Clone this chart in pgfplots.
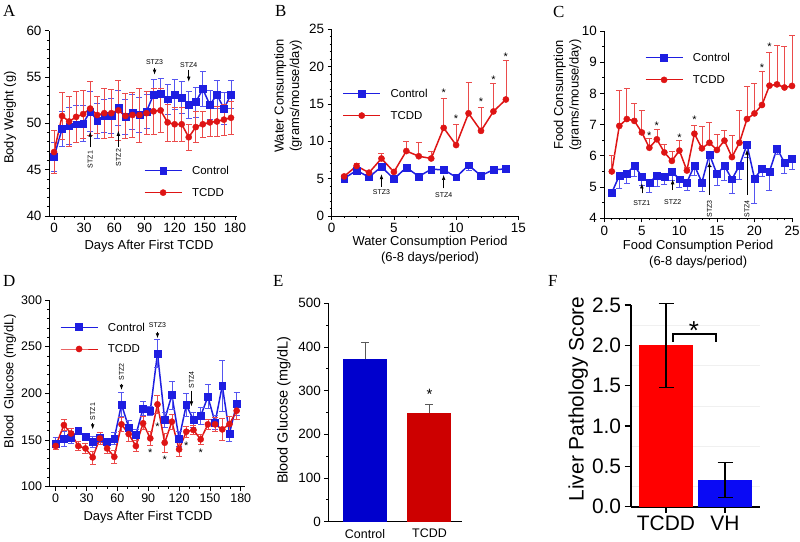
\documentclass[border=0pt]{standalone}
\usepackage{fontspec}
\setmainfont{Liberation Sans}
\newfontfamily\serifl{Liberation Serif}
\usepackage{pgfplots}
\pgfplotsset{compat=1.18}
\usetikzlibrary{arrows.meta}

\definecolor{cline}{RGB}{30,30,225}
\definecolor{cerr}{RGB}{85,85,240}
\definecolor{tline}{RGB}{222,20,20}
\definecolor{terr}{RGB}{235,75,75}
\definecolor{ebblue}{RGB}{0,0,205}
\definecolor{ebred}{RGB}{205,0,0}
\definecolor{fred}{RGB}{255,0,0}
\definecolor{fblue}{RGB}{10,10,245}

\newcommand\stz{\fontsize{7}{7}\selectfont}
\newcommand\starf{\fontsize{11}{11}\selectfont}
\newcommand\letf{\fontsize{17}{17}\selectfont\serifl}

\tikzset{arr/.style={-{Latex[length=5bp,width=3.6bp]}, line width=0.6bp, black},
  st/.style={font=\starf, yshift=-2.4bp}}

\pgfplotsset{
 panel/.style={
  scale only axis, anchor=south west, clip=false,
  axis x line*=bottom, axis y line*=left,
  every outer x axis line/.append style={-},
  every outer y axis line/.append style={-},
  every inner x axis line/.append style={-},
  every inner y axis line/.append style={-},
  axis line style={-, line width=0.8bp, black},
  tick align=outside, major tick length=4bp, minor tick length=2.2bp,
  tick style={black, line width=0.8bp},
  tick label style={font=\fontsize{13.5}{13.5}\selectfont},
  label style={font=\fontsize{13}{15.7}\selectfont},
  /pgf/number format/assume math mode=true,
  xlabel style={anchor=center, align=center},
  ylabel style={anchor=center, align=center},
 },
 ctrl/.style={color=cline, line width=1.5bp, mark=square*, mark size=3.4bp,
   mark options={solid, fill=cline, line width=0.4bp}},
 tcdd/.style={color=tline, line width=1.5bp, mark=*, mark size=3.1bp,
   mark options={solid, fill=tline, line width=0.4bp}},
 cerrb/.style={error bars/.cd, y explicit, y dir=#1,
   error bar style={color=cerr, line width=0.7bp},
   error mark options={rotate=90, mark size=3bp, color=cerr, line width=0.7bp}},
 terrb/.style={error bars/.cd, y explicit, y dir=#1,
   error bar style={color=terr, line width=0.7bp},
   error mark options={rotate=90, mark size=3bp, color=terr, line width=0.7bp}},
 leg/.style={legend style={draw=none, fill=none, at={#1}, anchor=west,
   font=\fontsize{11.5}{11.5}\selectfont, row sep=13.9bp, inner sep=0bp,
   nodes={inner sep=0bp, text depth=0bp},
   /tikz/every odd column/.append style={column sep=10bp}},
   legend cell align=left,
   legend image code/.code={\draw[mark repeat=2,mark phase=2,##1,line width=0.8bp]
     plot coordinates {(0bp,0bp) (18.5bp,0bp) (37bp,0bp)};}},
}

\begin{document}
\begin{tikzpicture}[x=1bp,y=1bp]
\path[use as bounding box] (0bp,0bp) rectangle (800bp,542bp);

% panel letters
\node[anchor=base west, inner sep=0, font=\letf] at (3bp,525.3bp) {A};
\node[anchor=base west, inner sep=0, font=\letf] at (275bp,525.3bp) {B};
\node[anchor=base west, inner sep=0, font=\letf] at (553bp,524.7bp) {C};
\node[anchor=base west, inner sep=0, font=\letf] at (3bp,255.3bp) {D};
\node[anchor=base west, inner sep=0, font=\letf] at (273bp,255.3bp) {E};
\node[anchor=base west, inner sep=0, font=\letf] at (548bp,255.3bp) {F};

% ---------------- A ----------------
\begin{axis}[panel, at={(49bp,326bp)}, width=188bp, height=185.3bp,
  xmin=-5, xmax=182, ymin=40, ymax=60,
  xtick={0,30,...,180}, ytick={40,45,...,60},
  minor x tick num=2, minor y tick num=4,
  xlabel={Days After First TCDD}, ylabel={Body Weight (g)},
  xlabel style={at={(axis description cs:0.532,-0.164)}},
  ylabel style={at={(axis description cs:-0.207,0.531)}},
  leg={(axis cs:89.5,43.72)}]
\addplot[ctrl, cerrb=both] table[x index=0, y index=1, y error index=2] {
0 46.4 1.6
8 49.4 1.9
15 49.7 2.0
22 49.9 2.0
29 50.0 1.9
36 51.3 2.2
43 50.3 1.9
50 50.8 1.8
57 50.8 1.9
64 51.7 1.9
71 50.7 1.9
78 51.2 1.9
85 50.9 1.9
92 51.3 1.8
99 53.1 1.7
106 53.2 1.7
113 52.6 1.6
120 53.1 1.6
127 52.8 1.7
134 52.0 1.5
141 52.3 1.6
148 53.7 1.9
155 52.0 1.6
162 53.1 1.5
169 51.6 1.7
176 53.1 1.5
};
\addlegendentry{Control}
\addplot[tcdd, terrb=both] table[x index=0, y index=1, y error index=2] {
0 46.9 2.3
8 50.8 2.5
15 50.2 2.7
22 50.7 2.8
29 51.0 2.6
36 51.6 2.9
43 50.9 2.0
50 51.1 2.7
57 51.1 2.6
64 51.4 3.2
71 50.8 2.4
78 50.9 2.4
85 50.9 2.9
92 51.1 2.3
99 51.3 2.5
106 51.4 2.4
113 50.1 2.0
120 49.9 1.8
127 49.9 1.8
134 48.5 1.4
141 49.6 1.7
148 49.9 1.4
155 50.1 1.5
162 50.2 1.6
169 50.4 1.7
176 50.6 1.8
};
\addlegendentry{TCDD}
\draw[arr] (axis cs:36,47.4) -- (axis cs:36,49.1);
\node[rotate=90, font=\stz] at (axis cs:36,46.1) {STZ1};
\draw[arr] (axis cs:64,47.5) -- (axis cs:64,49.2);
\node[rotate=90, font=\stz] at (axis cs:64,46.3) {STZ2};
\draw[arr] (axis cs:100,56.0) -- (axis cs:100,55.25);
\node[font=\stz] at (axis cs:100,56.65) {STZ3};
\draw[arr] (axis cs:134,55.8) -- (axis cs:134,54.5);
\node[font=\stz] at (axis cs:134,56.25) {STZ4};
\end{axis}

% ---------------- B ----------------
\begin{axis}[panel, at={(331.7bp,326bp)}, width=186.6bp, height=186.7bp,
  xmin=0, xmax=15, ymin=0, ymax=25,
  xtick={0,5,10,15}, ytick={0,5,...,25},
  minor x tick num=4, minor y tick num=4,
  xlabel={Water Consumption Period\\(6-8 days/period)},
  ylabel={Water Consumption\\(grams/mouse/day)},
  xlabel style={at={(axis description cs:0.527,-0.182)}},
  ylabel style={at={(axis description cs:-0.234,0.643)}},
  leg={(axis cs:0.88,14.93)}]
\addplot[ctrl, cerrb=minus] table[x index=0, y index=1, y error index=2] {
1 5.04 0.2
2 6.1 0.3
3 5.2 0.2
4 6.6 0.3
5 4.95 0.2
6 6.5 0.3
7 5.3 0.2
8 6.25 0.2
9 6.2 0.2
10 5.2 0.2
11 6.8 0.7
12 5.4 0.2
13 6.2 0.3
14 6.3 0.3
};
\addlegendentry{Control}
\addplot[tcdd, terrb=plus] table[x index=0, y index=1, y error index=2] {
1 5.3 0.2
2 6.7 0.3
3 5.8 0.2
4 7.7 0.7
5 5.9 0.3
6 8.7 1.3
7 8.0 1.9
8 7.7 0.9
9 11.8 3.9
10 9.5 2.8
11 13.75 4.15
12 11.4 3.1
13 14.0 3.8
14 15.6 5.2
};
\addlegendentry{TCDD}
\draw[arr] (axis cs:4,3.9) -- (axis cs:4,5.6);
\node[font=\stz] at (axis cs:4,3.25) {STZ3};
\draw[arr] (axis cs:9,3.7) -- (axis cs:9,5.5);
\node[font=\stz] at (axis cs:9,2.8) {STZ4};
\node[st] at (axis cs:9,16.8) {*};
\node[st] at (axis cs:10,13.4) {*};
\node[st] at (axis cs:12,15.6) {*};
\node[st] at (axis cs:13,18.6) {*};
\node[st] at (axis cs:14,21.7) {*};
\end{axis}

% ---------------- C ----------------
\begin{axis}[panel, at={(604.3bp,323.7bp)}, width=187.7bp, height=187.3bp,
  xmin=0, xmax=25, ymin=4, ymax=10,
  xtick={0,5,...,25}, ytick={4,...,10},
  minor x tick num=4, minor y tick num=1,
  xlabel={Food Consumption Period\\(6-8 days/period)},
  ylabel={Food Consumption\\(grams/mouse/day)},
  xlabel style={at={(axis description cs:0.5,-0.19)}},
  ylabel style={at={(axis description cs:-0.196,0.658)}},
  leg={(axis cs:5.42,8.79)}]
\addplot[ctrl, cerrb=minus] table[x index=0, y index=1, y error index=2] {
1 4.82 0.05
2 5.37 0.41
3 5.44 0.32
4 5.68 0.35
5 5.34 0.3
6 5.14 0.31
7 5.37 0.35
8 5.34 0.25
9 5.5 0.3
10 5.25 0.25
11 5.15 0.25
12 5.69 0.3
13 5.15 0.3
14 6.05 0.4
15 5.42 0.35
16 5.68 0.45
17 5.25 0.45
18 5.69 0.45
19 6.36 0.4
20 5.28 0.8
21 5.58 0.25
22 5.5 0.62
23 6.24 0.2
24 5.78 0.34
25 5.9 0.33
};
\addlegendentry{Control}
\addplot[tcdd, terrb=plus] table[x index=0, y index=1, y error index=2] {
1 5.5 0.53
2 6.96 1.13
3 7.18 0.98
4 7.12 0.56
5 6.75 0.7
6 6.26 0.3
7 6.53 0.32
8 6.11 0.27
9 5.84 0.32
10 6.17 0.32
11 5.53 0.1
12 6.71 0.28
13 6.24 0.7
14 6.42 0.65
15 6.19 0.5
16 6.49 0.34
17 5.96 0.71
18 6.42 1.03
19 7.18 1.04
20 7.36 0.96
21 7.63 1.07
22 8.25 1.07
23 8.29 1.26
24 8.19 1.33
25 8.24 1.61
};
\addlegendentry{TCDD}
\draw[arr] (axis cs:5,4.8) -- (axis cs:5,5.12);
\node[font=\stz] at (axis cs:5,4.48) {STZ1};
\draw[arr] (axis cs:9.1,4.9) -- (axis cs:9.1,5.25);
\node[font=\stz] at (axis cs:9.1,4.53) {STZ2};
\draw[arr] (axis cs:14,4.75) -- (axis cs:14,5.8);
\node[rotate=90, font=\stz] at (axis cs:14,4.3) {STZ3};
\draw[arr] (axis cs:19,4.75) -- (axis cs:19,6.2);
\node[rotate=90, font=\stz] at (axis cs:19,4.3) {STZ4};
\node[st] at (axis cs:6,6.72) {*};
\node[st] at (axis cs:7,7.04) {*};
\node[st] at (axis cs:10,6.67) {*};
\node[st] at (axis cs:12,7.23) {*};
\node[st] at (axis cs:21,8.89) {*};
\node[st] at (axis cs:22,9.57) {*};
\end{axis}

% ---------------- D ----------------
\begin{axis}[panel, at={(49.5bp,55.3bp)}, width=195.4bp, height=186.7bp,
  xmin=-6, xmax=184, ymin=100, ymax=300,
  xtick={0,30,...,180}, ytick={100,150,...,300},
  minor x tick num=2, minor y tick num=4,
  tick label style={font=\fontsize{12.5}{12.5}\selectfont},
  xlabel={Days After First TCDD},
  ylabel={Blood\hspace{0.45em}Glucose (mg/dL)},
  xlabel style={at={(axis description cs:0.504,-0.164)}},
  ylabel style={at={(axis description cs:-0.202,0.566)}},
  leg={(axis cs:4.2,259.4)}]
\addplot[ctrl, cerrb=both] table[x index=0, y index=1, y error index=2] {
0 146.4 6
8 151 8
15 152.9 6
22 159.6 4
29 153.6 4
36 148.2 6
43 152.9 5
50 148.2 4
57 151.8 6
64 188.2 13
71 163.6 8
78 155.4 6
85 183.9 8
92 181.4 5
99 242.9 15
106 172.1 8
113 198.2 15
120 151.4 8
127 187.5 12
134 171.4 8
141 175.7 9
148 196.4 13
155 168.9 8
162 208.2 27
169 157.1 9
176 188.6 12
};
\addlegendentry{Control}
\addplot[tcdd, terrb=both] table[x index=0, y index=1, y error index=2] {
0 143.6 4
8 166 6
15 157 5
22 143.6 5
29 141 5
36 131.4 7
43 151.8 6
50 141 5
57 132 7
64 166.8 8
71 156.4 8
78 143.6 6
85 167.9 7
92 151.8 8
99 188.2 10
106 147.1 10
113 169.6 8
120 140 7
127 158.9 6
134 160.7 5
141 150.7 5
148 166.8 5
155 166.8 8
162 161.4 12
169 167.1 8
176 181.4 9
};
\addlegendentry{TCDD}
\draw[arr] (axis cs:36,168.5) -- (axis cs:36,161.4);
\node[rotate=90, font=\stz] at (axis cs:36,180.4) {STZ1};
\draw[arr] (axis cs:64,210.5) -- (axis cs:64,203.6);
\node[rotate=90, font=\stz] at (axis cs:64,223) {STZ2};
\draw[arr] (axis cs:99,266) -- (axis cs:99,259);
\node[font=\stz] at (axis cs:99,273) {STZ3};
\draw[arr] (axis cs:132,203) -- (axis cs:132,186);
\node[rotate=90, font=\stz] at (axis cs:132,214.3) {STZ4};
\node[st] at (axis cs:92,139) {*};
\node[st] at (axis cs:99,167) {*};
\node[st] at (axis cs:106,131) {*};
\node[st] at (axis cs:127,146) {*};
\node[st] at (axis cs:141,139) {*};
\end{axis}

% ---------------- E ----------------
\begin{axis}[panel, at={(328.3bp,20.3bp)}, width=133.4bp, height=218.4bp,
  xmin=0.43, xmax=2.5, ymin=0, ymax=500,
  xtick={1,2}, xticklabels={Control,TCDD},
  x tick style={draw=none}, major x tick style={draw=none},
  ytick={0,100,...,500}, minor y tick num=1,
  xticklabel style={font=\fontsize{12.5}{12.5}\selectfont},
  ylabel={Blood Glucose (mg/dL)},
  label style={font=\fontsize{14.5}{14.5}\selectfont},
  ylabel style={at={(axis description cs:-0.332,0.511)}}]
\addplot[ybar, bar width=44bp, fill=ebblue, draw=none,
  error bars/.cd, y dir=plus, y explicit,
  error bar style={color=black!65, line width=0.8bp},
  error mark options={rotate=90, mark size=4bp, color=black!65, line width=0.8bp}]
  coordinates {(1,371.8) +- (0,39.7)};
\addplot[ybar, bar width=44bp, fill=ebred, draw=none,
  error bars/.cd, y dir=plus, y explicit,
  error bar style={color=black!65, line width=0.8bp},
  error mark options={rotate=90, mark size=4bp, color=black!65, line width=0.8bp}]
  coordinates {(2,248) +- (0,20)};
\node[font=\fontsize{15}{15}\selectfont, yshift=-3.2bp] at (axis cs:2,298) {*};
\end{axis}

% ---------------- F ----------------
\begin{axis}[panel, at={(630.6bp,35.3bp)}, width=129.8bp, height=201.7bp,
  xmin=0.4, xmax=2.6, ymin=0, ymax=2.5,
  xtick={1,2}, xticklabels={TCDD,VH},
  ytick={0,0.5,...,2.5}, minor y tick num=1,
  minor tick length=0bp, yminorgrids, minor grid style={gray!12, line width=0.5bp},
  axis line style={-, line width=1.8bp, black},
  tick style={black, line width=1.5bp}, major tick length=6bp,
  tick label style={font=\fontsize{21}{21}\selectfont},
  yticklabel style={/pgf/number format/.cd, fixed, fixed zerofill, precision=1},
  label style={font=\fontsize{21}{21}\selectfont},
  ylabel={Liver Pathology Score},
  ylabel style={at={(axis description cs:-0.403,0.534)}}]
\addplot[ybar, bar width=53.4bp, fill=fred, draw=none,
  error bars/.cd, y dir=both, y explicit,
  error bar style={color=black, line width=1.2bp},
  error mark options={rotate=90, mark size=7.5bp, color=black, line width=1.2bp}]
  coordinates {(1,2.0) +- (0,0.52)};
\addplot[ybar, bar width=53.4bp, fill=fblue, draw=none,
  error bars/.cd, y dir=both, y explicit,
  error bar style={color=black, line width=1.2bp},
  error mark options={rotate=90, mark size=7.5bp, color=black, line width=1.2bp}]
  coordinates {(2,0.333) +- (0,0.215)};
\draw[line width=1.8bp] (axis cs:1.119,2.045) -- (axis cs:1.119,2.136) -- (axis cs:1.847,2.136) -- (axis cs:1.847,2.045);
\node[font=\fontsize{26}{26}\selectfont, yshift=-5.5bp] at (axis cs:1.475,2.25) {*};
\end{axis}
\end{tikzpicture}
\end{document}
